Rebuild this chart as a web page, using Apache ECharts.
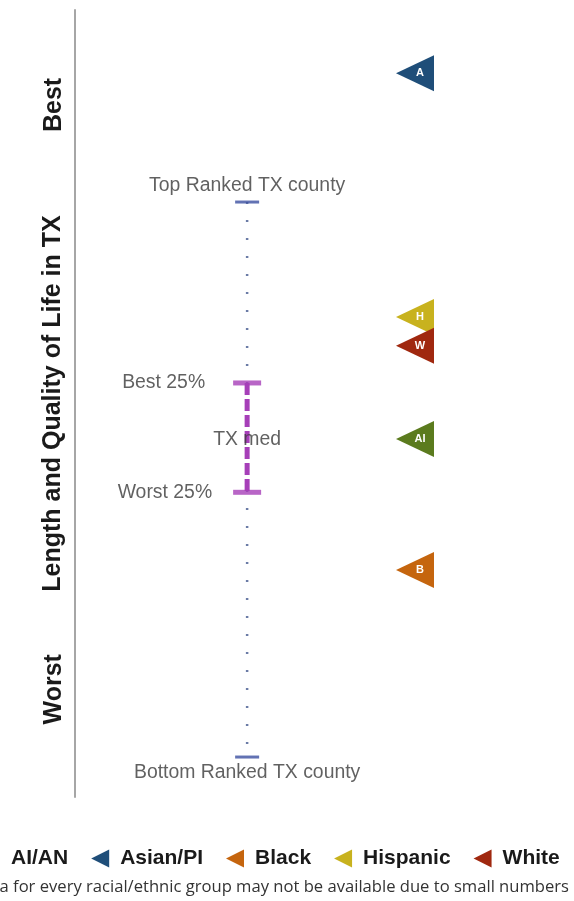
<!DOCTYPE html>
<html>
<head>
<meta charset="utf-8">
<script src="https://cdn.jsdelivr.net/npm/echarts@6/dist/echarts.min.js"></script>
<style>
html,body{margin:0;padding:0;background:#fff;}
#chart{width:574px;height:901px;}
</style>
</head>
<body>
<div id="chart"></div>
<script>
// ---- data ----
const groups = ['AI/AN', 'Asian/PI', 'Black', 'Hispanic', 'White'];
const groupLetters = ['AI', 'A', 'B', 'H', 'W'];
const groupColors = ['#5b7b1e', '#1f4e79', '#c5650e', '#c8b21e', '#a0280f'];
const groupScores = [57.3, 123.2, 33.7, 79.3, 74.1];   // higher = better
const groupX = 80;

const rangeX = 40.5;
const countyEnds = [100, 0];                            // top ranked, bottom ranked
const countyEndLabels = ['Top Ranked TX county', 'Bottom Ranked TX county'];
const quartiles = [67.4, 47.7];                         // best 25%, worst 25%
const quartileLabels = ['Best 25%', 'Worst 25%'];
const median = 57.1;
const medianLabel = 'TX med';

const scaleValues = [117.5, 12.2];
const scaleLabels = ['Best', 'Worst'];
const axisTitle = 'Length and Quality of Life in TX';
const footnote = 'Data for every racial/ethnic group may not be available due to small numbers';

const triPath = 'path://M0,5 L10,0 L10,10 Z';
const txtColor = '#3a3a3a';
const purple = '#a63fb8';
const capBlue = '#3b4fa0';

const chart = echarts.init(document.getElementById('chart'));

const groupSeries = groups.map((g, i) => ({
  name: g,
  type: 'scatter',
  symbol: triPath,
  symbolSize: [38, 36],
  symbolKeepAspect: false,
  itemStyle: { color: groupColors[i], opacity: 1 },
  label: {
    show: true,
    position: 'inside',
    offset: [5, 0],
    formatter: groupLetters[i],
    color: '#fff',
    fontWeight: 'bold',
    fontSize: 11,
    fontFamily: 'Liberation Sans'
  },
  emphasis: { disabled: true },
  z: 10,
  data: [[groupX, groupScores[i]]]
}));

const option = {
  animation: false,
  backgroundColor: '#fff',
  title: {
    text: footnote,
    right: 0,
    bottom: 0,
    textStyle: { fontSize: 16.6, fontWeight: 'normal', color: '#333', fontFamily: 'Open Sans' }
  },
  legend: {
    data: groups.map(g => ({ name: g, icon: triPath })),
    left: -23,
    top: 843,
    itemWidth: 30,
    itemHeight: 18,
    itemGap: 23,
    textStyle: { fontSize: 21, fontWeight: 'bold', color: '#1a1a1a', fontFamily: 'Liberation Sans' },
    selectedMode: false
  },
  grid: { left: 75, right: 74, top: 10, bottom: 104 },
  xAxis: { type: 'value', min: 0, max: 100, show: false },
  yAxis: {
    type: 'value',
    min: -7.2,
    max: 134.6,
    splitLine: { show: false },
    axisTick: { show: false },
    axisLine: { show: true, lineStyle: { color: '#a6a6a6', width: 2 } },
    axisLabel: {
      customValues: scaleValues,
      formatter: v => scaleLabels[scaleValues.indexOf(v)] || '',
      rotate: 90,
      margin: 8,
      fontSize: 25,
      fontWeight: 'bold',
      color: '#1a1a1a',
      fontFamily: 'Liberation Sans'
    },
    name: axisTitle,
    nameLocation: 'middle',
    nameRotate: 90,
    nameGap: 9,
    nameMoveOverlap: false,
    nameTextStyle: { fontSize: 25, fontWeight: 'bold', color: '#1a1a1a', fontFamily: 'Liberation Sans' }
  },
  series: [
    {
      type: 'line',
      symbol: 'none',
      lineStyle: { color: '#6b7ba6', width: 2.5, type: [2, 16] },
      data: countyEnds.map(v => [rangeX, v]),
      z: 2
    },
    {
      type: 'scatter',
      symbol: 'rect',
      symbolSize: [24, 3],
      itemStyle: { color: capBlue },
      label: {
        show: true,
        formatter: p => countyEndLabels[p.dataIndex],
        fontSize: 19.4,
        color: txtColor,
        fontFamily: 'Liberation Sans',
        distance: 5
      },
      data: countyEnds.map((v, i) => ({ value: [rangeX, v], label: { position: i === 0 ? 'top' : 'bottom' } })),
      z: 3
    },
    {
      type: 'line',
      symbol: 'none',
      lineStyle: { color: purple, width: 5, type: [12, 4] },
      data: quartiles.map(v => [rangeX, v]),
      z: 4
    },
    {
      type: 'scatter',
      symbol: 'rect',
      symbolSize: [28, 5],
      itemStyle: { color: purple },
      label: {
        show: true,
        position: 'left',
        formatter: p => quartileLabels[p.dataIndex],
        fontSize: 19.4,
        color: txtColor,
        fontFamily: 'Liberation Sans'
      },
      data: quartiles.map((v, i) => ({ value: [rangeX, v], label: { distance: i === 0 ? 28 : 21 } })),
      z: 5
    },
    {
      type: 'scatter',
      symbol: 'circle',
      symbolSize: 1,
      itemStyle: { color: 'rgba(0,0,0,0)' },
      label: {
        show: true,
        position: 'inside',
        formatter: medianLabel,
        fontSize: 19.4,
        color: txtColor,
        fontFamily: 'Liberation Sans'
      },
      data: [[rangeX, median]],
      z: 6
    }
  ].concat(groupSeries)
};

chart.setOption(option);
</script>
</body>
</html>
